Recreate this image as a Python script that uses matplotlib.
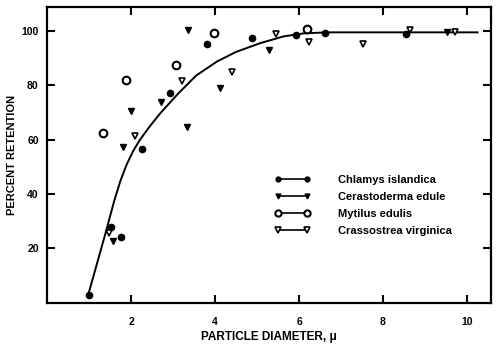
import matplotlib
matplotlib.use('Agg')
import matplotlib.pyplot as plt
from matplotlib.lines import Line2D

plt.rcParams['font.family'] = ['Liberation Sans', 'DejaVu Sans']

# data
chlamys_x = [1.0, 1.52, 1.75, 2.27, 2.94, 3.80, 4.87, 5.93, 6.62, 8.55]
chlamys_y = [3, 28, 24.2, 56.6, 77.1, 95.2, 97.5, 98.5, 99.4, 98.9]

cerasto_x = [1.56, 1.82, 1.99, 2.71, 3.33, 3.35, 4.12, 5.29, 9.52]
cerasto_y = [22.8, 57.2, 70.6, 74.0, 64.6, 100.3, 78.9, 93.0, 99.7]

mytilus_x = [1.33, 1.87, 3.07, 3.98, 6.20]
mytilus_y = [62.4, 82.0, 87.5, 99.1, 100.7]

crasso_x = [1.48, 2.10, 3.22, 4.40, 5.45, 6.24, 7.53, 8.65, 9.71]
crasso_y = [25.7, 61.4, 81.7, 85.0, 98.8, 96.1, 95.2, 100.3, 99.7]

curve_x = [1.0, 1.2, 1.4, 1.6, 1.75, 1.9, 2.05, 2.2, 2.45, 2.7, 3.1, 3.55,
           4.05, 4.5, 5.07, 5.63, 6.1, 6.66, 8.0, 10.25]
curve_y = [4, 15, 26, 37.5, 45, 51.0, 55.8, 59.7, 65.0, 69.8, 76.6, 83.6,
           88.8, 92.3, 95.5, 98.0, 99.1, 99.5, 99.5, 99.5]

species = ['Chlamys islandica', 'Cerastoderma edule', 'Mytilus edulis',
           'Crassostrea virginica']
x_ticks = [2, 4, 6, 8, 10]
y_ticks = [20, 40, 60, 80, 100]

fig = plt.figure(figsize=(5, 3.53), dpi=100)
ax = fig.add_axes([0.094, 0.142, 0.888, 0.838])

ax.plot(curve_x, curve_y, color='black', lw=1.4, zorder=2)

styles = [
    dict(marker='o', ms=4.5, mfc='black', mec='black'),
    dict(marker='v', ms=4.5, mfc='black', mec='black'),
    dict(marker='o', ms=5.5, mfc='white', mec='black', mew=1.5),
    dict(marker='v', ms=5, mfc='white', mec='black', mew=1.2),
]
series = [(chlamys_x, chlamys_y), (cerasto_x, cerasto_y),
          (mytilus_x, mytilus_y), (crasso_x, crasso_y)]

for (xs, ys), st in zip(series, styles):
    ax.plot(xs, ys, linestyle='', zorder=3, **st)

# legend handles: smaller markers joined by a line
leg_styles = [dict(st, ms=st['ms'] - 1) for st in styles]
handles = [Line2D([0], [0], color='black', lw=1.2, **st) for st in leg_styles]
leg = ax.legend(handles, species, loc='upper left', bbox_to_anchor=(0.5, 0.45),
                frameon=False, numpoints=2, handlelength=3.2, handletextpad=2.5,
                labelspacing=0.62, borderpad=0,
                prop={'size': 8, 'weight': 'bold'})

ax.set_xlim(0, 10.57)
ax.set_ylim(0, 108.8)
ax.set_xticks(x_ticks)
ax.set_yticks(y_ticks)
ax.tick_params(direction='in', length=6, width=1.5, top=True, right=True,
               labelsize=7.5)
ax.tick_params(axis='x', pad=10)
ax.tick_params(axis='y', pad=6)
for lab in ax.get_xticklabels() + ax.get_yticklabels():
    lab.set_fontweight('bold')
for sp in ax.spines.values():
    sp.set_linewidth(1.6)

ax.set_xlabel('PARTICLE DIAMETER, \u03bc', fontsize=8.5, fontweight='bold',
              labelpad=3)
ax.set_ylabel('PERCENT RETENTION', fontsize=8, fontweight='bold', labelpad=3)

fig.savefig('out.png', dpi=100)
